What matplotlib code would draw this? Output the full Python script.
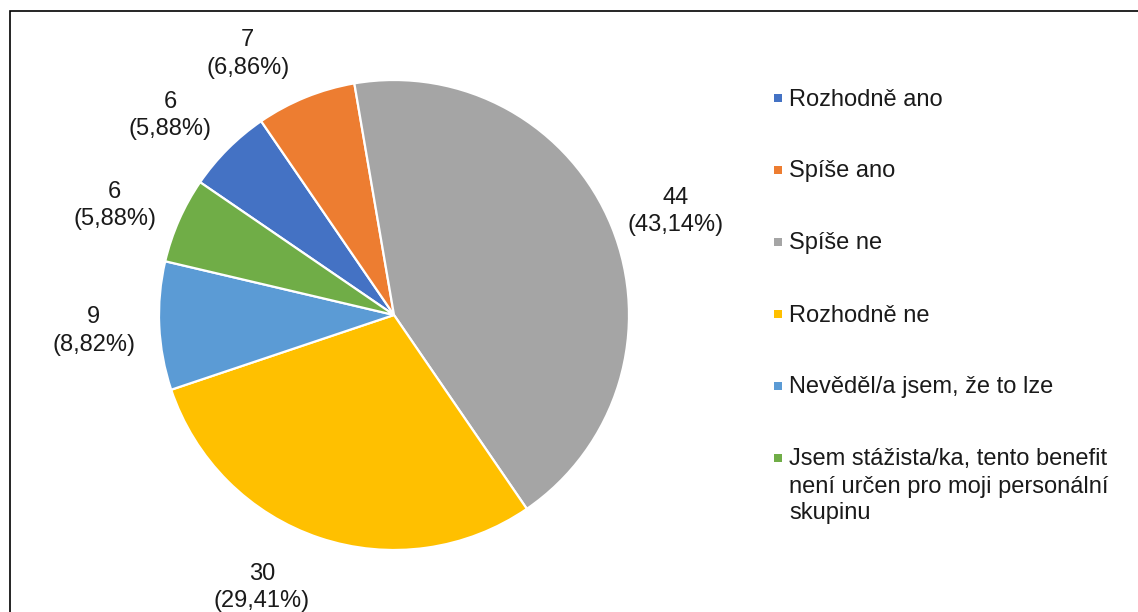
import numpy as np
import matplotlib.pyplot as plt
from matplotlib.patches import Rectangle

plt.rcParams['font.family'] = ['Liberation Sans', 'DejaVu Sans']

# data
categories = [
    "Rozhodně ano",
    "Spíše ano",
    "Spíše ne",
    "Rozhodně ne",
    "Nevěděl/a jsem, že to lze",
    "Jsem stážista/ka, tento benefit\nnení určen pro moji personální\nskupinu",
]
counts = [6, 7, 44, 30, 9, 6]
colors = ["#4472C4", "#ED7D31", "#A5A5A5", "#FFC000", "#5B9BD5", "#70AD47"]

# Excel posunul nektere popisky kvuli prekryvu (stupne, matplotlib smer)
label_nudge = [3, 7, -1.5, -7.5, 0, 2]

W, H = 1138, 612
FS = 17
TXT = "#1a1a1a"

fig = plt.figure(figsize=(W / 100, H / 100), dpi=100)
ax = fig.add_axes([0, 0, 1, 1])

cx, cy, r = 394, H - 315, 235
wedges, _ = ax.pie(
    counts,
    colors=colors,
    startangle=145.6,
    counterclock=False,
    center=(cx, cy),
    radius=r,
    wedgeprops=dict(edgecolor="white", linewidth=1.6),
    frame=True,
)
ax.set_xlim(0, W)
ax.set_ylim(0, H)
ax.set_aspect("equal")
ax.axis("off")

# popisky dat
total = sum(counts)
for w, v, nd in zip(wedges, counts, label_nudge):
    ang = np.deg2rad((w.theta1 + w.theta2) / 2 + nd)
    x = cx + 1.28 * r * np.cos(ang)
    y = cy + 1.28 * r * np.sin(ang) - 2
    pct = f"{v / total * 100:.2f}".replace(".", ",")
    ax.text(x, y, f"{v}\n({pct}%)", ha="center", va="center",
            fontsize=FS, linespacing=1.32, color=TXT)

# legenda rucne (znacka u prvniho radku)
y0, step, line_h = H - 98, 72, 27
for i, (lab, col) in enumerate(zip(categories, colors)):
    yc = y0 - i * step
    ax.add_patch(Rectangle((774, yc - 4), 8, 8, facecolor=col, edgecolor="none"))
    for j, line in enumerate(lab.split("\n")):
        ax.text(789, yc - 7.5 - j * line_h, line, ha="left", va="baseline",
                fontsize=FS, color=TXT)

# ramecek grafu (vpravo a dole je orizly)
fig.patches.append(Rectangle((10 / W, -0.05), 1.2, 1 - 11 / H + 0.05,
                             transform=fig.transFigure, fill=False,
                             edgecolor="black", linewidth=1.2))

fig.savefig("out.png", dpi=100)
